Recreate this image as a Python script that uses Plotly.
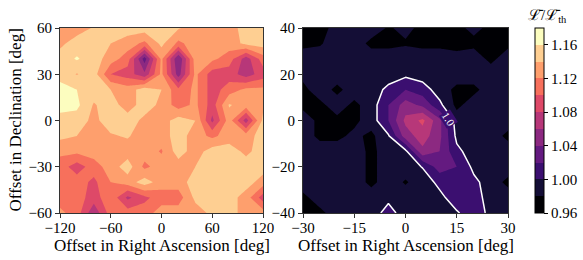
import plotly.graph_objects as go

# ---------------- data ----------------
ra_left = [-120, -100, -80, -60, -40, -20, 0, 20, 40, 60, 80, 100, 120]
dec_left = [60, 50, 40, 30, 20, 10, 0, -10, -20, -30, -40, -50, -60]
lum_left = [
    [1.13, 1.13, 1.142, 1.15, 1.15, 1.15, 1.15, 1.142, 1.13, 1.13, 1.13, 1.15, 1.15],
    [1.135, 1.15, 1.15, 1.14, 1.13, 1.115, 1.145, 1.115, 1.13, 1.13, 1.13, 1.145, 1.15],
    [1.15, 1.162, 1.15, 1.13, 1.11, 1.03, 1.125, 1.04, 1.13, 1.125, 1.11, 1.07, 1.11],
    [1.15, 1.139, 1.15, 1.10, 1.09, 1.065, 1.125, 1.05, 1.125, 1.09, 1.09, 1.07, 1.09],
    [1.17, 1.16, 1.15, 1.14, 1.13, 1.15, 1.14, 1.105, 1.125, 1.09, 1.11, 1.125, 1.125],
    [1.17, 1.165, 1.138, 1.15, 1.13, 1.15, 1.135, 1.11, 1.125, 1.09, 1.142, 1.13, 1.135],
    [1.15, 1.15, 1.135, 1.15, 1.15, 1.135, 1.13, 1.15, 1.14, 1.075, 1.13, 1.07, 1.145],
    [1.145, 1.14, 1.135, 1.138, 1.142, 1.13, 1.13, 1.15, 1.13, 1.115, 1.13, 1.13, 1.15],
    [1.125, 1.125, 1.13, 1.13, 1.13, 1.13, 1.118, 1.15, 1.13, 1.15, 1.15, 1.135, 1.15],
    [1.11, 1.09, 1.11, 1.13, 1.15, 1.115, 1.13, 1.13, 1.14, 1.15, 1.15, 1.15, 1.15],
    [1.11, 1.11, 1.095, 1.12, 1.13, 1.15, 1.13, 1.13, 1.15, 1.15, 1.15, 1.15, 1.13],
    [1.11, 1.11, 1.09, 1.115, 1.075, 1.095, 1.11, 1.11, 1.145, 1.15, 1.15, 1.13, 1.09],
    [1.125, 1.11, 1.065, 1.11, 1.11, 1.11, 1.13, 1.13, 1.13, 1.145, 1.15, 1.13, 1.13],
]

ra_right = [-30, -25, -20, -15, -10, -5, 0, 5, 10, 15, 20, 25, 30]
dec_right = [40, 33.33, 26.67, 20, 13.33, 6.67, 0, -6.67, -13.33, -20, -26.67, -33.33, -40]
lum_right = [
    [0.975, 0.975, 0.985, 0.99, 0.99, 0.978, 0.985, 0.975, 0.975, 0.975, 0.985, 0.975, 0.975],
    [0.975, 0.978, 0.99, 0.99, 0.975, 0.975, 0.978, 0.975, 0.975, 0.975, 0.975, 0.975, 0.975],
    [0.99, 0.99, 0.99, 0.99, 0.99, 0.99, 0.99, 0.99, 0.99, 0.985, 0.99, 0.975, 0.99],
    [0.985, 0.99, 0.99, 0.99, 0.99, 0.99, 0.995, 0.99, 0.985, 0.99, 0.99, 0.99, 0.99],
    [0.975, 0.99, 0.975, 0.99, 0.99, 1.005, 1.02, 1.01, 0.99, 0.975, 0.975, 0.99, 0.99],
    [0.975, 0.975, 0.99, 0.975, 0.99, 1.02, 1.05, 1.035, 1.005, 0.975, 0.99, 0.99, 0.99],
    [0.99, 0.975, 0.975, 0.975, 0.99, 1.02, 1.065, 1.085, 1.045, 0.99, 0.99, 0.99, 0.99],
    [0.99, 0.975, 0.975, 0.985, 0.975, 0.998, 1.05, 1.07, 1.045, 0.995, 0.99, 0.99, 0.975],
    [0.99, 0.99, 0.99, 0.99, 0.975, 0.99, 0.995, 1.055, 1.04, 1.005, 0.99, 0.99, 0.99],
    [0.99, 0.99, 0.99, 0.99, 0.975, 0.99, 0.99, 1.001, 1.03, 1.02, 0.995, 0.99, 0.99],
    [0.99, 0.99, 0.99, 0.99, 0.975, 0.99, 0.978, 0.99, 1.005, 1.015, 1.005, 0.99, 0.975],
    [0.975, 0.99, 0.99, 0.99, 0.99, 0.995, 0.99, 0.99, 0.995, 1.01, 1.01, 0.99, 0.99],
    [0.975, 0.975, 0.99, 0.99, 0.99, 1.008, 0.99, 0.99, 0.99, 0.998, 1.01, 0.995, 0.99],
]

level_start, level_end, level_step = 0.96, 1.18, 0.02
threshold_level = 1.0
cbar_ticks = [0.96, 1.00, 1.04, 1.08, 1.12, 1.16]
cbar_ticktext = ["0.96", "1.00", "1.04", "1.08", "1.12", "1.16"]
left_xticks = [-120, -60, 0, 60, 120]
left_yticks = [-60, -30, 0, 30, 60]
right_xticks = [-30, -15, 0, 15, 30]
right_yticks = [-40, -20, 0, 20, 40]
label_ra, label_dec = 12.5, 0.5
xlabel = "Offset in Right Ascension [deg]"
ylabel = "Offset in Declination [deg]"
cbar_label = "ℒ̄/ℒ̄<sub>th</sub>"

band_colors = ['#000004', '#140e36', '#3b0f70', '#641a80', '#8c2981', '#b73779',
               '#de4968', '#f7705c', '#fe9f6d', '#fecf92', '#fcfdbf']
nb = len(band_colors)

# contour fill colormap (plotly samples each band at its midpoint, which maps
# to (k+1)/(nb+1) on the colorscale when zmin/zmax are not given)
ns = nb + 1
fill_scale = []
for k, col in enumerate(band_colors):
    lo = 0.0 if k == 0 else (k + 0.5) / ns
    hi = 1.0 if k == nb - 1 else (k + 1.5) / ns
    fill_scale += [[lo, col], [hi, col]]

# colorbar colormap: plain discrete bands over [level_start, level_end]
bar_scale = []
for k, col in enumerate(band_colors):
    bar_scale += [[k / nb, col], [(k + 1) / nb, col]]

FONT = "Liberation Serif"
W, H = 583, 260
contours = dict(start=level_start, end=level_end, size=level_step, coloring="fill")

fig = go.Figure()
fig.add_trace(go.Contour(
    x=ra_left, y=dec_left[::-1], z=lum_left[::-1],
    contours=contours, colorscale=fill_scale,
    line=dict(width=0, smoothing=0), showscale=False,
    xaxis="x", yaxis="y", hoverinfo="skip"))
fig.add_trace(go.Contour(
    x=ra_right, y=dec_right[::-1], z=lum_right[::-1],
    contours=contours, colorscale=fill_scale,
    line=dict(width=0, smoothing=0), showscale=False,
    xaxis="x2", yaxis="y2", hoverinfo="skip"))
fig.add_trace(go.Contour(
    x=ra_right, y=dec_right[::-1], z=lum_right[::-1],
    contours=dict(start=threshold_level, end=threshold_level, size=0.1, coloring="none",
                  showlabels=False),
    line=dict(color="white", width=1.5, smoothing=0), showscale=False,
    xaxis="x2", yaxis="y2", hoverinfo="skip"))
# invisible marker carrying the shared colour bar
fig.add_trace(go.Scatter(
    x=[ra_right[0]], y=[dec_right[0]], mode="markers", xaxis="x2", yaxis="y2",
    marker=dict(color=[level_start], colorscale=bar_scale, cmin=level_start,
                cmax=level_end, opacity=0, showscale=True,
                colorbar=dict(
                    x=535 / W, xanchor="left", xpad=0,
                    y=1 - 28 / H, yanchor="top", ypad=0,
                    len=185 / H, lenmode="fraction", thickness=9,
                    outlinecolor="black", outlinewidth=1,
                    tickvals=cbar_ticks, ticktext=cbar_ticktext,
                    ticks="outside", ticklen=4, tickcolor="black",
                    tickfont=dict(family=FONT, size=15, color="black"))),
    hoverinfo="skip"))

axis_common = dict(showline=True, linecolor="#333333", linewidth=1, mirror=True,
                   ticks="outside", ticklen=4, tickcolor="#333333",
                   showgrid=False, zeroline=False,
                   tickfont=dict(family=FONT, size=15, color="black"))
title_font = dict(family=FONT, size=17, color="black")

fig.update_layout(
    width=W, height=H, margin=dict(l=0, r=0, t=0, b=0, autoexpand=False),
    paper_bgcolor="white", plot_bgcolor="white", showlegend=False,
    xaxis=dict(domain=[60 / W, 263 / W], range=[-120, 120], tickvals=left_xticks,
               ticklabelstandoff=-3, **axis_common),
    yaxis=dict(domain=[47 / H, 232 / H], range=[-60, 60], tickvals=left_yticks,
               **axis_common),
    xaxis2=dict(domain=[303 / W, 508 / W], range=[-30, 30], tickvals=right_xticks,
                anchor="y2", ticklabelstandoff=-3, **axis_common),
    yaxis2=dict(domain=[47 / H, 232 / H], range=[-40, 40], tickvals=right_yticks,
                anchor="x2", **axis_common),
    annotations=[
        dict(text=xlabel, xref="paper", yref="paper", x=161.5 / W, y=1 - 245 / H,
             xanchor="center", yanchor="middle", showarrow=False, font=title_font),
        dict(text=xlabel, xref="paper", yref="paper", x=405.5 / W, y=1 - 245 / H,
             xanchor="center", yanchor="middle", showarrow=False, font=title_font),
        dict(text=ylabel, xref="paper", yref="paper", x=15 / W, y=1 - 120.5 / H,
             xanchor="center", yanchor="middle", textangle=-90, showarrow=False,
             font=title_font),
        dict(text=cbar_label, xref="paper", yref="paper",
             x=547 / W, y=1 - 16 / H, xanchor="center", yanchor="middle",
             showarrow=False, font=dict(family=FONT, size=15, color="black")),
        dict(text="%.1f" % threshold_level, xref="x2", yref="y2",
             x=label_ra, y=label_dec, showarrow=False, textangle=58,
             bgcolor="#3b0f70", borderpad=0,
             font=dict(family=FONT, size=11, color="white")),
    ],
)

fig.write_html(
    "out.html",
    config={"displayModeBar": False, "staticPlot": True},
    post_script=("document.body.style.margin='0';"
                 "document.body.style.overflow='hidden';"
                 "document.documentElement.style.overflow='hidden';"),
)
